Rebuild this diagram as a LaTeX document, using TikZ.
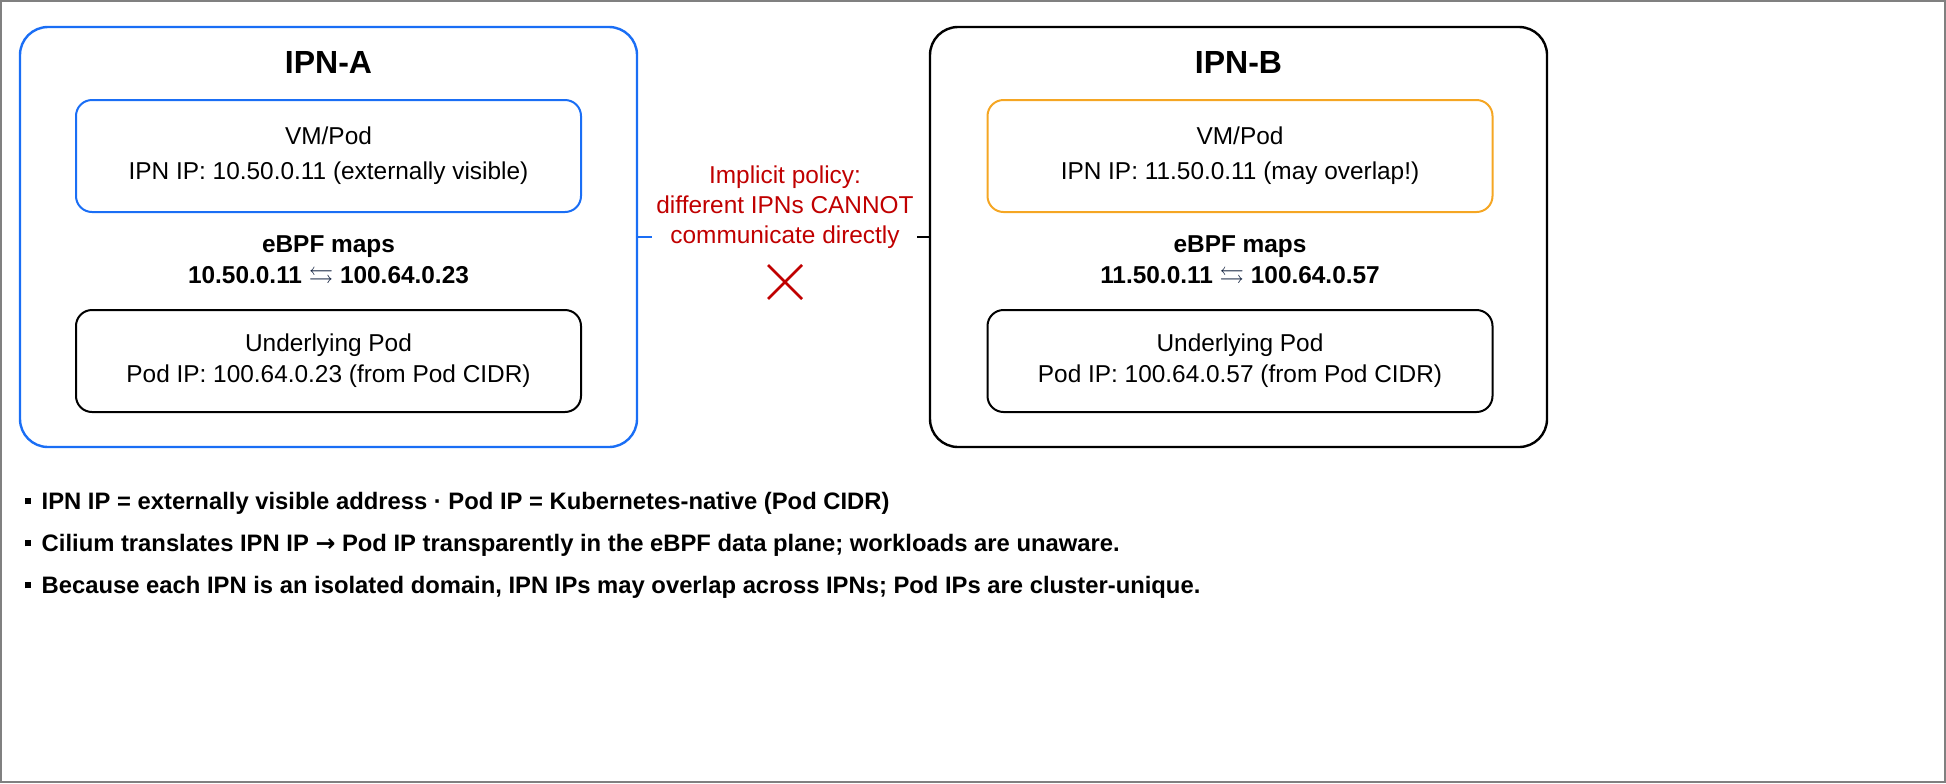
\documentclass[tikz,border=0pt]{standalone}
\usepackage{fontspec}
\usepackage{amssymb}
\setmainfont{Liberation Sans}
\newfontfamily\symfont{DejaVu Sans}
\usetikzlibrary{positioning}
\definecolor{ipnblue}{HTML}{1A6EF5}
\definecolor{ipnorange}{HTML}{F5A623}
\definecolor{ipnred}{HTML}{C00000}
\definecolor{mapnavy}{HTML}{0F1E3C}
\tikzset{
  ipnbox/.style={draw,rounded corners=14pt,line width=1.2pt,minimum width=308.5pt,minimum height=210pt},
  podbox/.style={draw,rounded corners=8pt,line width=1pt,minimum width=252.5pt,align=center,font=\fontsize{12.2}{15.5}\selectfont},
  title/.style={font=\bfseries\fontsize{16}{19}\selectfont},
  maplbl/.style={font=\bfseries\fontsize{12.2}{15.5}\selectfont,align=center},
  note/.style={font=\bfseries\fontsize{11.9}{14}\selectfont,anchor=west},
}
\newcommand{\maparrows}{\textcolor{mapnavy}{$\leftrightarrows$}}
\newcommand{\sqbullet}{\rule[0.2em]{0.25em}{0.25em}\hspace{0.45em}}
\begin{document}
\begin{tikzpicture}[x=0.5pt,y=-0.5pt]
\draw[gray,line width=1pt] (1,1) rectangle (1945,782);
\useasboundingbox (0,0) rectangle (1946,783);
% IPN-A
\node[ipnbox,draw=ipnblue] (ipna) at (328.5,237) {};
\node[title] (ipnatitle) at (328.5,62) {IPN-A};
\node[podbox,draw=ipnblue,minimum height=56pt] (vma) at (328.5,156) {VM/Pod\\[2pt]IPN IP: 10.50.0.11 (externally visible)};
\node[maplbl] (mapa) at (328.5,262) {eBPF maps\\10.50.0.11 \maparrows{} 100.64.0.23};
\node[podbox,minimum height=51pt] (poda) at (328.5,361) {Underlying Pod\\Pod IP: 100.64.0.23 (from Pod CIDR)};
% IPN-B
\node[ipnbox] (ipnb) at (1238.5,237) {};
\node[title] (ipnbtitle) at (1238.5,62) {IPN-B};
\node[podbox,draw=ipnorange,minimum height=56pt] (vmb) at (1240,156) {VM/Pod\\[2pt]IPN IP: 11.50.0.11 (may overlap!)};
\node[maplbl] (mapb) at (1240,262) {eBPF maps\\11.50.0.11 \maparrows{} 100.64.0.57};
\node[podbox,minimum height=51pt] (podb) at (1240,361) {Underlying Pod\\Pod IP: 100.64.0.57 (from Pod CIDR)};
% policy
\node[text=ipnred,align=center,font=\fontsize{12.2}{15}\selectfont] (policy) at (785,207) {Implicit policy:\\different IPNs CANNOT\\communicate directly};
\coordinate (stuba) at (652,237);
\coordinate (stubb) at (917,237);
\draw[ipnblue,line width=1pt] (ipna.east) -- (stuba);
\draw[line width=1pt] (stubb) -- (ipnb.west);
\coordinate (cross) at (785,282);
\draw[ipnred,line width=1.3pt] ([shift={(-17,-17)}]cross) -- ([shift={(17,17)}]cross)
  ([shift={(-17,17)}]cross) -- ([shift={(17,-17)}]cross);
% notes
\node[note] (n1) at (18,503) {\sqbullet IPN IP = externally visible address · Pod IP = Kubernetes-native (Pod CIDR)};
\node[note] (n2) at (18,545) {\sqbullet Cilium translates IPN IP {\symfont\bfseries →} Pod IP transparently in the eBPF data plane; workloads are unaware.};
\node[note] (n3) at (18,587) {\sqbullet Because each IPN is an isolated domain, IPN IPs may overlap across IPNs; Pod IPs are cluster-unique.};
\end{tikzpicture}
\end{document}
